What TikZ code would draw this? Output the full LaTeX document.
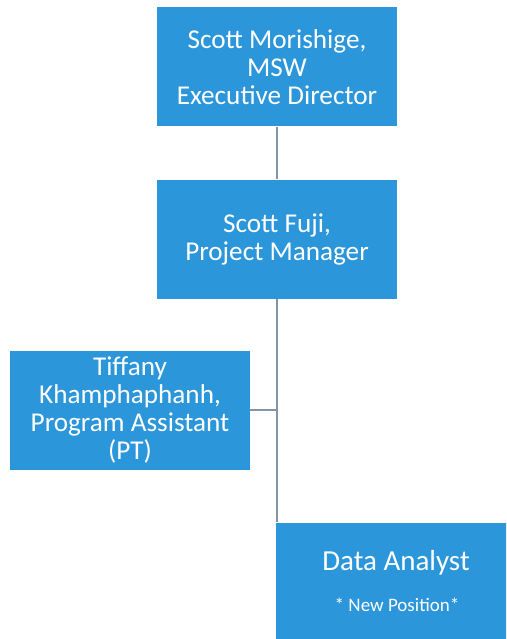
\documentclass[tikz,border=0pt]{standalone}
\usepackage{fontspec}
\setmainfont{Carlito}
\definecolor{boxblue}{RGB}{44,150,218}
\definecolor{linegray}{RGB}{128,150,168}
\begin{document}
\begin{tikzpicture}[x=1pt,y=-1pt,
  orgbox/.style={fill=boxblue, draw=none, minimum width=240pt, minimum height=119pt, inner sep=0pt,
    text=white, align=center, font=\fontsize{27.2}{28}\selectfont},
  conn/.style={draw=linegray, line width=1.8pt}]
\useasboundingbox (0,0) rectangle (506,639);
\clip (0,0) rectangle (506,639);
\node[orgbox] (ed) at (277,67) {Scott Morishige,\\MSW\\Executive Director};
\node[orgbox] (pm) at (277,239) {Scott Fuji,\\Project Manager};
\node[orgbox] (pa) at (130,410) {Tiffany\\Khamphaphanh,\\Program Assistant\\(PT)};
\node[orgbox] (da) at (396,582) {};
\node[text=white, inner sep=0pt, font=\fontsize{29}{32}\selectfont] (dat) at (396,563) {Data Analyst};
\node[text=white, inner sep=0pt, font=\fontsize{19}{22}\selectfont] (dan) at (397,605) {* New Position*};
\coordinate (j) at (277,410);
\draw[conn] (ed.south) -- (pm.north);
\draw[conn] (pm.south) -- (j) -- (da.north west -| j);
\draw[conn] (pa.east) -- (j);
\end{tikzpicture}
\end{document}
